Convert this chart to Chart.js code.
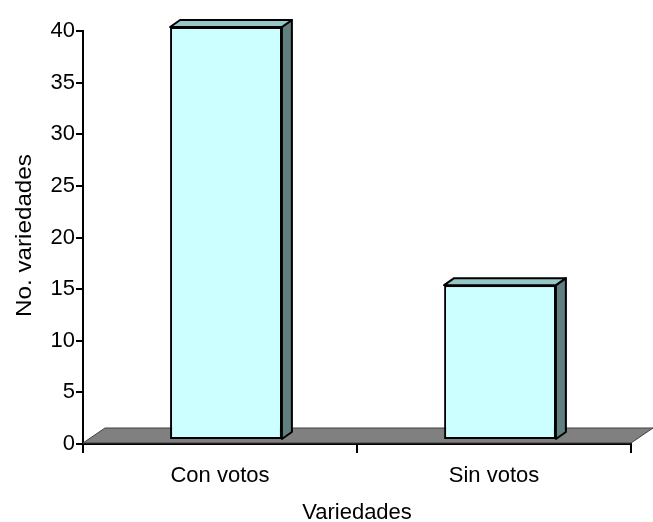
<!DOCTYPE html>
<html>
<head>
<meta charset="utf-8">
<script src="https://cdn.jsdelivr.net/npm/chart.js@4/dist/chart.umd.min.js"></script>
<style>
  html, body { margin: 0; padding: 0; background: #fff; }
  #wrap { width: 653px; height: 522px; }
</style>
</head>
<body>
<div id="wrap"><canvas id="chart" width="653" height="522"></canvas></div>
<script>
let categories = ['Con votos', 'Sin votos'];
let values = [40, 15];
let yTicks = [0, 5, 10, 15, 20, 25, 30, 35, 40];
let xTitle = 'Variedades';
let yTitle = 'No. variedades';

// 3D look: bar depth and floor depth in px
let barDepth = { dx: 10, dy: 7 };
let floorDepth = { dx: 22, dy: 15 };
let barShift = { dx: 6, dy: -4 };

let fontFamily = '"Liberation Sans", Arial, sans-serif';
let fontSpec = { family: fontFamily, size: 22 };

let threeD = {
    id: 'threeD',
    beforeDatasetsDraw(chart) {
        // grey floor under the bars
        let ctx = chart.ctx;
        let a = chart.chartArea;
        let y0 = chart.scales.y.getPixelForValue(0) - 1;
        ctx.save();
        ctx.beginPath();
        ctx.moveTo(a.left, y0);
        ctx.lineTo(a.left + floorDepth.dx, y0 - floorDepth.dy);
        ctx.lineTo(a.right + floorDepth.dx, y0 - floorDepth.dy);
        ctx.lineTo(a.right, y0);
        ctx.closePath();
        ctx.fillStyle = '#808080';
        ctx.fill();
        ctx.strokeStyle = '#404040';
        ctx.lineWidth = 1;
        ctx.stroke();
        ctx.restore();
    },
    beforeDatasetDraw(chart) {
        chart.ctx.save();
        chart.ctx.translate(barShift.dx, barShift.dy);
    },
    afterDatasetDraw(chart, args) {
        let ctx = chart.ctx;
        args.meta.data.forEach(function(bar) {
            let l = bar.x - bar.width / 2;
            let r = bar.x + bar.width / 2;
            let t = bar.y;
            let b = bar.base;
            ctx.lineWidth = 2;
            ctx.strokeStyle = '#000';
            ctx.lineJoin = 'round';
            // right side
            ctx.beginPath();
            ctx.moveTo(r, t);
            ctx.lineTo(r + barDepth.dx, t - barDepth.dy);
            ctx.lineTo(r + barDepth.dx, b - barDepth.dy);
            ctx.lineTo(r, b);
            ctx.closePath();
            ctx.fillStyle = '#608080';
            ctx.fill();
            ctx.stroke();
            // top
            ctx.beginPath();
            ctx.moveTo(l, t);
            ctx.lineTo(l + barDepth.dx, t - barDepth.dy);
            ctx.lineTo(r + barDepth.dx, t - barDepth.dy);
            ctx.lineTo(r, t);
            ctx.closePath();
            ctx.fillStyle = '#96C6C6';
            ctx.fill();
            ctx.stroke();
        });
        ctx.restore();
    },
    afterDraw(chart) {
        // rotated y title, stretched a bit along its length like the original
        let ctx = chart.ctx;
        let a = chart.chartArea;
        ctx.save();
        ctx.translate(31, (a.top + a.bottom) / 2 - 2);
        ctx.rotate(-Math.PI / 2);
        ctx.scale(1.1, 1);
        ctx.font = '22px ' + fontFamily;
        ctx.fillStyle = '#000';
        ctx.textAlign = 'center';
        ctx.textBaseline = 'alphabetic';
        ctx.fillText(yTitle, 0, 0);
        ctx.restore();
    }
};

let chart = new Chart(document.getElementById('chart').getContext('2d'), {
    type: 'bar',
    data: {
        labels: categories,
        datasets: [{
            data: values,
            backgroundColor: '#CCFFFF',
            borderColor: '#000',
            borderWidth: 2,
            borderSkipped: false,
            categoryPercentage: 0.8,
            barPercentage: 0.51
        }]
    },
    options: {
        responsive: false,
        animation: false,
        devicePixelRatio: 1,
        layout: { padding: { top: 31, right: 22, left: 0, bottom: 0 } },
        plugins: {
            legend: { display: false },
            tooltip: { enabled: false }
        },
        scales: {
            x: {
                offset: true,
                grid: {
                    offset: true,
                    drawOnChartArea: false,
                    drawTicks: true,
                    tickLength: 9,
                    color: '#000',
                    lineWidth: 2
                },
                border: { color: '#000', width: 2 },
                ticks: { color: '#000', font: fontSpec, padding: 10 },
                title: {
                    display: true,
                    text: xTitle,
                    color: '#000',
                    font: fontSpec,
                    padding: { top: 0, bottom: -4 }
                },
                afterFit(scale) { scale.height = 78; }
            },
            y: {
                min: 0,
                max: 40,
                afterBuildTicks(scale) {
                    scale.ticks = yTicks.map(v => ({ value: v }));
                },
                grid: {
                    drawOnChartArea: false,
                    drawTicks: true,
                    tickLength: 7,
                    color: '#000',
                    lineWidth: 2
                },
                border: { color: '#000', width: 2 },
                ticks: { color: '#000', font: fontSpec, padding: 1 },
                afterFit(scale) { scale.width = 83; }
            }
        }
    },
    plugins: [threeD]
});
</script>
</body>
</html>
